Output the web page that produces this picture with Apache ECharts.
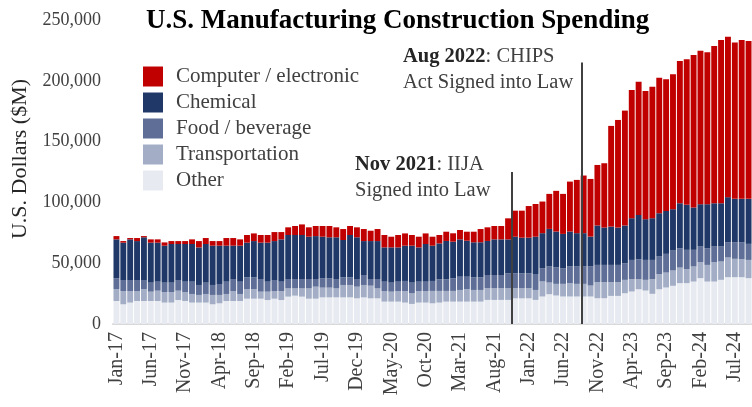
<!DOCTYPE html>
<html>
<head>
<meta charset="utf-8">
<script src="https://cdn.jsdelivr.net/npm/echarts@6/dist/echarts.min.js"></script>
<style>html,body{margin:0;padding:0;background:#fff;}#c{width:752px;height:407px;}</style>
</head>
<body>
<div id="c"></div>
<script>
const categories = [
'Jan-17','Feb-17','Mar-17','Apr-17','May-17','Jun-17','Jul-17','Aug-17','Sep-17','Oct-17','Nov-17','Dec-17',
'Jan-18','Feb-18','Mar-18','Apr-18','May-18','Jun-18','Jul-18','Aug-18','Sep-18','Oct-18','Nov-18','Dec-18',
'Jan-19','Feb-19','Mar-19','Apr-19','May-19','Jun-19','Jul-19','Aug-19','Sep-19','Oct-19','Nov-19','Dec-19',
'Jan-20','Feb-20','Mar-20','Apr-20','May-20','Jun-20','Jul-20','Aug-20','Sep-20','Oct-20','Nov-20','Dec-20',
'Jan-21','Feb-21','Mar-21','Apr-21','May-21','Jun-21','Jul-21','Aug-21','Sep-21','Oct-21','Nov-21','Dec-21',
'Jan-22','Feb-22','Mar-22','Apr-22','May-22','Jun-22','Jul-22','Aug-22','Sep-22','Oct-22','Nov-22','Dec-22',
'Jan-23','Feb-23','Mar-23','Apr-23','May-23','Jun-23','Jul-23','Aug-23','Sep-23','Oct-23','Nov-23','Dec-23',
'Jan-24','Feb-24','Mar-24','Apr-24','May-24','Jun-24','Jul-24','Aug-24','Sep-24'
];

const other = [18900,16200,17600,18900,18900,18900,18900,17600,17600,19700,18900,17600,17600,17600,16200,
17000,18900,18900,18900,20800,20800,20800,19700,20800,19700,22500,23300,22500,20800,20800,
21900,21900,21900,21900,21900,21100,21900,21100,21100,18400,18400,18400,17600,16500,17600,17600,
17000,17600,18400,18400,18400,18400,18400,18400,19800,19800,19800,19800,21100,21100,21100,19800,
22600,24500,23400,22600,22600,22600,22600,22600,21200,21200,23100,23100,25300,26700,28600,27500,
24800,28600,30000,31400,33600,33600,34900,37700,34900,34900,36300,38500,38500,38500,37700];

const transportation = [9900,10900,9500,8200,9900,7700,8500,8700,8700,7700,7400,7100,6300,7100,7700,
6900,5800,8200,5800,8000,8000,5800,6900,6300,7400,6800,6000,6800,8500,9900,
8000,8000,7400,10200,10200,9600,10200,10400,8200,8700,8200,8700,9500,8700,9500,9500,
10200,9600,8800,8800,9600,10400,9600,9600,9600,9600,9600,9600,8300,8300,8300,8200,
12400,9600,9600,10400,11000,10400,10400,9000,13200,13200,11300,11300,11000,10200,8300,8800,
12100,12400,12300,12600,12800,11500,12400,13100,13700,15900,15100,16200,15100,14800,15000];

const food = [8800,9100,9100,9100,7400,7400,7400,7700,7700,8800,8500,10100,8200,9300,8200,
9000,10100,9900,10100,9600,9600,10400,8200,9100,7700,7700,7700,7700,7700,6300,
7700,7700,7700,6300,6300,6300,8200,5500,7700,7700,7400,7700,8300,8800,7700,7700,
8200,9600,9600,10400,10900,10100,10400,10400,10900,10900,10900,12300,12300,12300,12300,13100,
10900,13200,13700,12900,13700,14300,14300,15700,14200,14200,14200,14200,13700,15800,16400,16400,
15800,14500,15400,16400,15900,15900,13700,12900,13700,12900,12300,12600,13700,14000,13200];

const chemical = [32000,30700,33400,32000,35100,32900,32100,30400,31800,29600,31000,31000,30900,31800,32300,
31500,29600,27400,29600,28500,29800,29900,32100,32000,34800,36200,36200,36200,34800,35300,
34200,33700,34300,30700,34800,34300,27900,31200,31200,28200,29000,28200,29000,30400,28200,31000,
29000,29500,31500,30100,30700,29600,28800,28800,28000,29300,29300,27900,30100,29300,29300,30700,
28800,30900,29300,28200,28700,27400,27400,24600,32400,30700,31500,30700,31000,34300,36400,33500,
34300,35600,35300,34000,37000,37000,34800,34800,36200,35600,35600,37000,35600,35600,37000];

const computer = [2700,1300,1100,2500,1000,2700,2700,2700,2400,2400,2400,3800,5200,4900,3800,
3800,6300,6300,5200,6300,6300,6300,6300,7400,6000,6300,7400,8700,7700,8300,
8800,9300,8200,9000,7400,8200,9900,8500,9900,10200,8800,10200,10100,8800,8800,8700,
7400,6900,7600,6900,7700,7400,8700,10900,11200,11000,11000,17300,21400,22200,26000,26900,
26000,28800,33500,32900,41100,43800,47400,47400,49800,52900,82800,88500,94500,105500,109600,105500,
108200,111500,108200,111000,117000,119700,125400,126300,124900,129300,134300,132000,128500,130700,129900];

// Policy events: month boundary positions (index between months) and line heights
const eventPositions = [57.5, 67.7];   // around start of Nov-21, around end of Aug-22
const eventLineTops = [125000, 215000];

const FONT = "'Liberation Serif', 'DejaVu Serif', serif";
const chart = echarts.init(document.getElementById('c'), null, {renderer: 'canvas'});

const seriesDefs = [
  {name: 'Other', data: other, color: '#E7EAF0'},
  {name: 'Transportation', data: transportation, color: '#A3AEC6'},
  {name: 'Food / beverage', data: food, color: '#5E6E96'},
  {name: 'Chemical', data: chemical, color: '#1F3867'},
  {name: 'Computer / electronic', data: computer, color: '#C00000'}
];

const series = seriesDefs.map(d => ({
  name: d.name, type: 'bar', stack: 'total', data: d.data,
  xAxisIndex: 0, yAxisIndex: 0,
  barCategoryGap: '14%',
  itemStyle: {color: d.color},
  emphasis: {disabled: true},
  animation: false
}));

series.push({
  name: 'events', type: 'line', xAxisIndex: 1, yAxisIndex: 0, data: [],
  silent: true, animation: false,
  markLine: {
    silent: true, symbol: ['none', 'none'], animation: false,
    label: {show: false},
    lineStyle: {color: '#404040', width: 2, type: 'solid'},
    data: eventPositions.map((p, i) => [{coord: [p, 0]}, {coord: [p, eventLineTops[i]]}])
  }
});

chart.setOption({
  animation: false,
  backgroundColor: '#fff',
  title: {
    text: 'U.S. Manufacturing Construction Spending',
    left: 141, top: 3,
    textStyle: {fontFamily: FONT, fontSize: 27, fontWeight: 'bold', color: '#000'}
  },
  legend: {
    data: ['Computer / electronic', 'Chemical', 'Food / beverage', 'Transportation', 'Other'],
    orient: 'vertical', left: 138, top: 61,
    itemWidth: 20, itemHeight: 20, itemGap: 5, icon: 'rect',
    selectedMode: false,
    textStyle: {fontFamily: FONT, fontSize: 21, color: '#404040', padding: [0, 0, 0, 8]}
  },
  grid: {left: 113, right: 0, top: 20, bottom: 83, containLabel: false, outerBoundsMode: 'none'},
  xAxis: [{
    type: 'category', data: categories,
    axisLine: {show: true, lineStyle: {color: '#D9D9D9', width: 2}},
    axisTick: {show: false},
    axisLabel: {interval: 4, rotate: 90, margin: 8, fontFamily: FONT, fontSize: 20, color: '#404040'},
    splitLine: {show: false}
  }, {
    type: 'value', min: -0.5, max: categories.length - 0.5, show: false
  }],
  yAxis: {
    type: 'value', min: 0, max: 250000, interval: 50000,
    name: 'U.S. Dollars ($M)', nameLocation: 'middle', nameRotate: 90, nameGap: 81,
    nameTextStyle: {fontFamily: FONT, fontSize: 22, color: '#262626', padding: [0, 0, 0, 26]},
    axisLine: {show: false}, axisTick: {show: false}, splitLine: {show: false},
    axisLabel: {margin: 12, fontFamily: FONT, fontSize: 18, color: '#404040',
      formatter: v => v.toLocaleString('en-US')}
  },
  graphic: [
    {type: 'text', left: 355, top: 152, z: 100, silent: true,
     style: {text: '{b|Nov 2021}: IIJA\nSigned into Law', font: "20.5px " + FONT, fill: '#404040', lineHeight: 26,
       rich: {b: {fontWeight: 'bold', fontFamily: FONT, fontSize: 20.5, fill: '#262626', lineHeight: 26}}}},
    {type: 'text', left: 403, top: 44, z: 100, silent: true,
     style: {text: '{b|Aug 2022}: CHIPS\nAct Signed into Law', font: "20.5px " + FONT, fill: '#404040', lineHeight: 26,
       rich: {b: {fontWeight: 'bold', fontFamily: FONT, fontSize: 20.5, fill: '#262626', lineHeight: 26}}}}
  ],
  series: series
});
</script>
</body>
</html>
